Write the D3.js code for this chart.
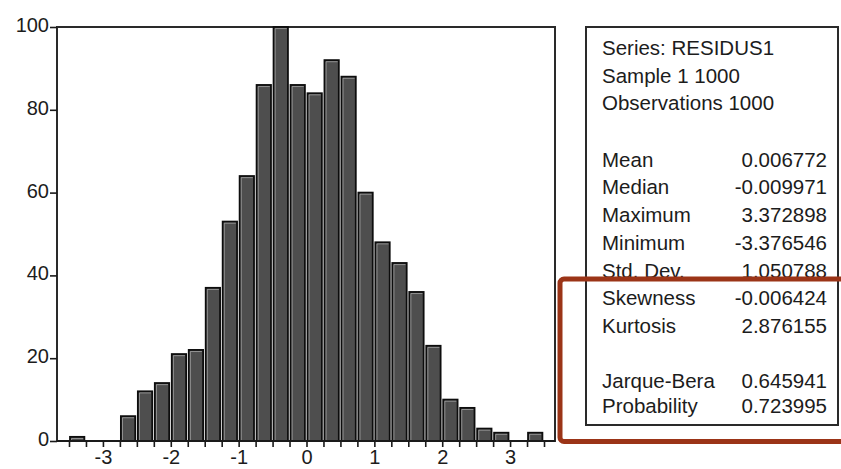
<!DOCTYPE html>
<html><head><meta charset="utf-8">
<script src="https://cdn.jsdelivr.net/npm/d3@7"></script>
<style>
body{margin:0;background:#fff}
svg{display:block}
text{font-family:"Liberation Sans",Arial,Helvetica,sans-serif;fill:#1c1c1c}
</style>
</head><body>
<svg id="chart" width="841" height="469"></svg>
<script>
// ---- data ----
const binStarts = [-3.5,-3.25,-3,-2.75,-2.5,-2.25,-2,-1.75,-1.5,-1.25,-1,-0.75,-0.5,-0.25,
                   0,0.25,0.5,0.75,1,1.25,1.5,1.75,2,2.25,2.5,2.75,3,3.25];
const counts    = [1,0,0,6,12,14,21,22,37,53,64,86,100,86,
                   84,92,88,60,48,43,36,23,10,8,3,2,0,2];
const binWidth = 0.25;
const xTickLabels = [-3,-2,-1,0,1,2,3];
const yTickLabels = [0,20,40,60,80,100];
const headerLines = ["Series: RESIDUS1","Sample 1 1000","Observations 1000"];
const statLabels  = ["Mean","Median","Maximum","Minimum","Std. Dev.","Skewness","Kurtosis","Jarque-Bera","Probability"];
const statValues  = ["0.006772","-0.009971","3.372898","-3.376546","1.050788","-0.006424","2.876155","0.645941","0.723995"];

// ---- layout ----
const svg = d3.select("#chart");
const plot = {left:57, right:555, top:27, bottom:441};
const x = d3.scaleLinear().domain([-3.5,3.5]).range([69,544]);
const y = d3.scaleLinear().domain([0,100]).range([plot.bottom, plot.top]);

// frame
svg.append("rect")
  .attr("x",plot.left).attr("y",plot.top)
  .attr("width",plot.right-plot.left).attr("height",plot.bottom-plot.top)
  .attr("fill","none").attr("stroke","#2a2a2a").attr("stroke-width",2);

// bars
const bars = svg.append("g");
const bw = x(binWidth) - x(0);
binStarts.forEach((s,i)=>{
  const c = counts[i];
  if (!c) return;
  const x0 = x(s)+1, w = bw-2.6, y0 = y(c), h = y(0)-y(c);
  bars.append("rect")
    .attr("x",x0).attr("y",y0).attr("width",w).attr("height",h)
    .attr("fill","#4e4e4e").attr("stroke","#0d0d0d").attr("stroke-width",1.8);
  // light inner highlight (left & top)
  bars.append("path")
    .attr("d",`M${x0+1.6},${y(0)} V${y0+1.6} H${x0+w-1.2}`)
    .attr("fill","none").attr("stroke","#c9c9c9").attr("stroke-width",1)
    .attr("opacity",0.55);
});

// x axis
const xTicks = d3.range(-3.5, 3.5001, binWidth);
const xAxis = d3.axisBottom(x)
  .tickValues(xTicks)
  .tickSize(6)
  .tickFormat(d => xTickLabels.includes(d) ? (d<0 ? "-"+Math.abs(d) : String(d)) : "");
const gx = svg.append("g").attr("transform",`translate(0,${plot.bottom})`).call(xAxis);
gx.select(".domain").attr("d",`M${plot.left},0H${plot.right}`).attr("stroke","#1a1a1a").attr("stroke-width",2);
gx.selectAll(".tick line").attr("stroke","#1a1a1a").attr("stroke-width",1.6);
gx.selectAll(".tick text").attr("font-size",20).attr("y",9).attr("dy","0.71em")
  .style("font-family",'"Liberation Sans",Arial,sans-serif').attr("fill","#1c1c1c");

// y axis
const yAxis = d3.axisLeft(y).tickValues(yTickLabels).tickSize(7).tickPadding(1);
const gy = svg.append("g").attr("transform",`translate(${plot.left},0)`).call(yAxis);
gy.select(".domain").remove();
gy.selectAll(".tick line").attr("stroke","#1a1a1a").attr("stroke-width",1.6);
gy.selectAll(".tick text").attr("font-size",20).attr("dy","0.22em")
  .style("font-family",'"Liberation Sans",Arial,sans-serif').attr("fill","#1c1c1c");

// stats box
const box = {left:586, right:838, top:27, bottom:425};
svg.append("rect")
  .attr("x",box.left).attr("y",box.top)
  .attr("width",box.right-box.left).attr("height",box.bottom-box.top)
  .attr("fill","#fff").attr("stroke","#2a2a2a").attr("stroke-width",2);

const tx = 602, vx = 827, fs = 20.5;
headerLines.forEach((t,i)=>{
  svg.append("text").attr("x",tx).attr("y",55+i*27.5).attr("font-size",fs).text(t);
});
const rowH = 27.7, row0 = 166.7;
statLabels.forEach((t,i)=>{
  const r = i < 7 ? i : i+1;
  const yy = row0 + r*rowH - (i===8 ? 2.6 : 0);
  svg.append("text").attr("x",tx).attr("y",yy).attr("font-size",fs).text(t);
  svg.append("text").attr("x",vx).attr("y",yy).attr("font-size",fs)
    .attr("text-anchor","end").text(statValues[i]);
});

// red highlight rectangle
svg.append("rect")
  .attr("x",560).attr("y",279).attr("width",320).attr("height",162.5)
  .attr("rx",4)
  .attr("fill","none").attr("stroke","#9b3417").attr("stroke-width",5);
</script>
</body></html>
